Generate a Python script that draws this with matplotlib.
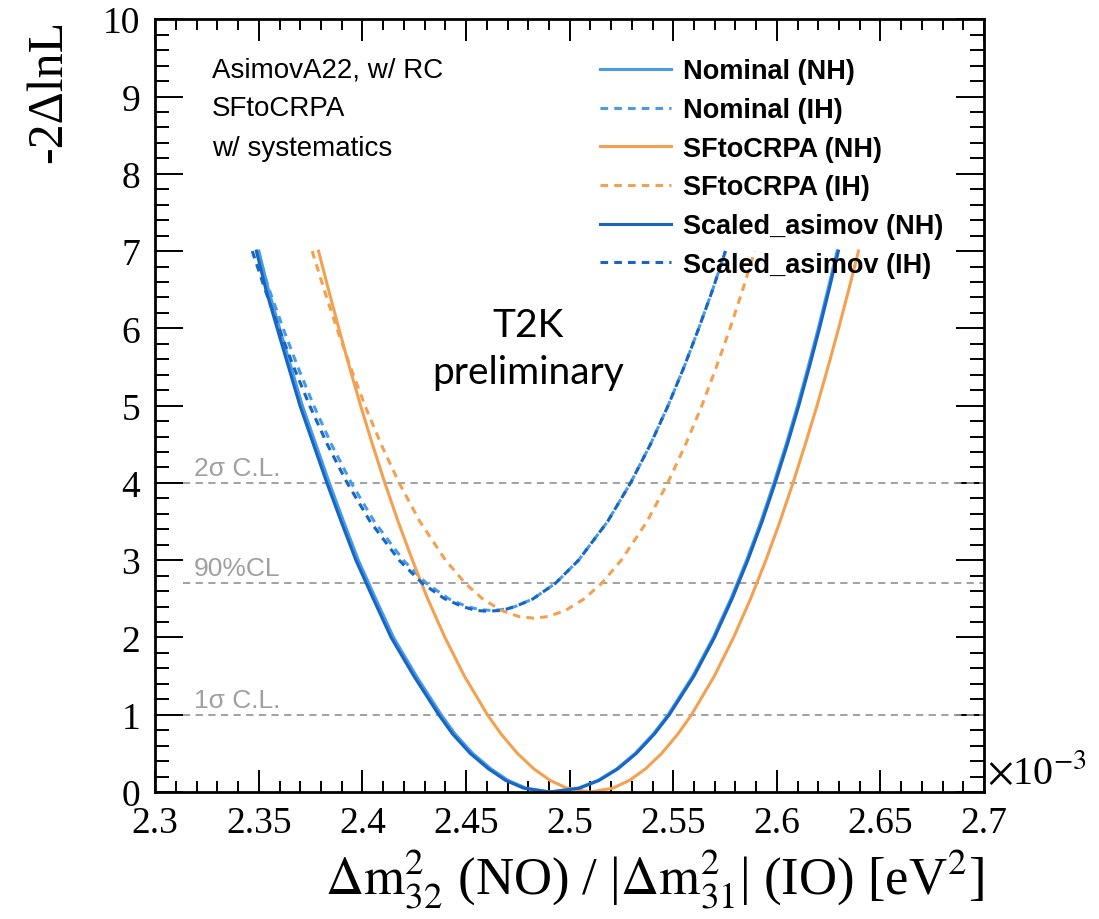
import numpy as np
import matplotlib
matplotlib.use('Agg')
import matplotlib.pyplot as plt
from matplotlib.ticker import MultipleLocator

plt.rcParams['mathtext.fontset'] = 'stix'
plt.rcParams['font.family'] = 'Liberation Serif'

# x in units of 1e-3 eV^2, y = -2 Delta lnL
nh_y = [7.0, 6.5, 6.0, 5.5, 5.0, 4.5, 4.0, 3.5, 3.0, 2.5, 2.0, 1.5, 1.0, 0.75, 0.5, 0.3, 0.15, 0.05, 0.0,
        0.05, 0.15, 0.3, 0.5, 0.75, 1.0, 1.5, 2.0, 2.5, 3.0, 3.5, 4.0, 4.5, 5.0, 5.5, 6.0, 6.5, 7.0]

nom_nh_x = [2.3500, 2.3546, 2.3600, 2.3655, 2.3710, 2.3775, 2.3840, 2.3909, 2.3980, 2.4064, 2.4150,
            2.4260, 2.4380, 2.4447, 2.4532, 2.4620, 2.4703, 2.4790, 2.4910,
            2.5041, 2.5136, 2.5227, 2.5316, 2.5403, 2.5475, 2.5594, 2.5693, 2.5778, 2.5854,
            2.5923, 2.5986, 2.6045, 2.6100, 2.6151, 2.6200, 2.6246, 2.6291]

sca_nh_x = [2.3488, 2.3534, 2.3588, 2.3643, 2.3698, 2.3763, 2.3828, 2.3897, 2.3968, 2.4052, 2.4138,
            2.4248, 2.4368, 2.4435, 2.4520, 2.4608, 2.4691, 2.4778, 2.4900,
            2.5047, 2.5142, 2.5233, 2.5322, 2.5409, 2.5481, 2.5600, 2.5699, 2.5784, 2.5860,
            2.5929, 2.5992, 2.6051, 2.6106, 2.6157, 2.6206, 2.6252, 2.6297]

sf_nh_x = [2.3788, 2.3836, 2.3886, 2.3937, 2.3991, 2.4048, 2.4108, 2.4172, 2.4241, 2.4315, 2.4398,
           2.4492, 2.4603, 2.4669, 2.4748, 2.4827, 2.4906, 2.4987, 2.5098,
           2.5208, 2.5288, 2.5366, 2.5444, 2.5522, 2.5588, 2.5698, 2.5791, 2.5873, 2.5947,
           2.6015, 2.6078, 2.6137, 2.6194, 2.6247, 2.6298, 2.6347, 2.6394]

nom_ih_y = [7.0, 6.5, 6.0, 5.5, 5.0, 4.5, 4.0, 3.5, 3.0, 2.7, 2.5, 2.4, 2.36, 2.35,
            2.36, 2.4, 2.5, 2.7, 3.0, 3.5, 4.0, 4.5, 5.0, 5.5, 6.0, 6.5, 7.0]
nom_ih_x = [2.3488, 2.3550, 2.3617, 2.3688, 2.3765, 2.3850, 2.3946, 2.4057, 2.4197, 2.4309, 2.4417,
            2.4503, 2.4567, 2.4620,
            2.4673, 2.4737, 2.4823, 2.4931, 2.5043, 2.5183, 2.5294, 2.5390, 2.5475, 2.5552,
            2.5623, 2.5690, 2.5752]

sca_ih_y = [7.0, 6.5, 6.0, 5.5, 5.0, 4.5, 4.0, 3.5, 3.0, 2.7, 2.5, 2.4, 2.35, 2.34,
            2.35, 2.4, 2.5, 2.7, 3.0, 3.5, 4.0, 4.5, 5.0, 5.5, 6.0, 6.5, 7.0]
sca_ih_x = [2.3468, 2.3530, 2.3597, 2.3668, 2.3745, 2.3830, 2.3926, 2.4037, 2.4177, 2.4289, 2.4397,
            2.4483, 2.4547, 2.4600,
            2.4673, 2.4737, 2.4823, 2.4931, 2.5043, 2.5183, 2.5294, 2.5390, 2.5475, 2.5552,
            2.5623, 2.5690, 2.5752]

sf_ih_y = [7.0, 6.5, 6.0, 5.5, 5.0, 4.5, 4.0, 3.5, 3.0, 2.7, 2.5, 2.35, 2.27, 2.25,
           2.27, 2.35, 2.5, 2.7, 3.0, 3.5, 4.0, 4.5, 5.0, 5.5, 6.0, 6.5, 7.0]
sf_ih_x = [2.3757, 2.3815, 2.3876, 2.3942, 2.4012, 2.4090, 2.4177, 2.4277, 2.4401, 2.4496, 2.4580,
           2.4670, 2.4756, 2.4825,
           2.4894, 2.4980, 2.5070, 2.5154, 2.5249, 2.5373, 2.5473, 2.5560, 2.5638, 2.5708,
           2.5774, 2.5835, 2.5893]

cl_levels = [1.0, 2.71, 4.0]
cl_names = ['1\u03c3 C.L.', '90%CL', '2\u03c3 C.L.']

light_blue = '#4a9be6'
dark_blue = '#1766c4'
orange = '#f3a150'
dash = (0, (2.5, 2))

fig = plt.figure(figsize=(10.99, 9.2), dpi=100)
ax = fig.add_axes([0.1413, 0.138, 0.7541, 0.840])

for lev, name in zip(cl_levels, cl_names):
    ax.plot([2.3135, 2.7], [lev, lev], color='#9a9a9a', lw=1.3, ls=(0, (4, 3)))
    ax.text(2.3185, lev + 0.04, name, color='#a0a0a0', fontsize=19,
            family='Liberation Sans', ha='left', va='bottom')

ax.plot(nom_nh_x, nh_y, color=light_blue, lw=2.2, label='Nominal (NH)')
ax.plot(nom_ih_x, nom_ih_y, color=light_blue, lw=2.2, ls=dash, label='Nominal (IH)')
ax.plot(sf_nh_x, nh_y, color=orange, lw=2.2, label='SFtoCRPA (NH)')
ax.plot(sf_ih_x, sf_ih_y, color=orange, lw=2.2, ls=dash, label='SFtoCRPA (IH)')
ax.plot(sca_nh_x, nh_y, color=dark_blue, lw=2.2, label='Scaled_asimov (NH)')
ax.plot(sca_ih_x, sca_ih_y, color=dark_blue, lw=2.2, ls=dash, label='Scaled_asimov (IH)')

ax.set_xlim(2.3, 2.7)
ax.set_ylim(0, 10)
ax.xaxis.set_major_locator(MultipleLocator(0.05))
ax.xaxis.set_minor_locator(MultipleLocator(0.01))
ax.yaxis.set_major_locator(MultipleLocator(1))
ax.yaxis.set_minor_locator(MultipleLocator(0.2))
ax.set_xticks([2.3, 2.35, 2.4, 2.45, 2.5, 2.55, 2.6, 2.65, 2.7])
ax.set_xticklabels(['2.3', '2.35', '2.4', '2.45', '2.5', '2.55', '2.6', '2.65', '2.7'])
ax.tick_params(axis='both', which='both', direction='in', top=True, right=True, labelsize=27, width=1.4)
ax.tick_params(axis='x', which='major', length=16, pad=10)
ax.tick_params(axis='x', which='minor', length=8)
ax.tick_params(axis='y', which='major', length=20, pad=11)
ax.tick_params(axis='y', which='minor', length=10)
for sp in ax.spines.values():
    sp.set_linewidth(2)

ax.set_xlabel(r'$\Delta\mathrm{m}^2_{32}$ (NO) / |$\Delta\mathrm{m}^2_{31}$| (IO) [eV$^2$]',
              fontsize=38, loc='right', labelpad=4)
ax.set_ylabel('-2\u0394lnL', fontsize=36, loc='top', labelpad=22)
ax.text(1.003, 0.0, r'$\times$10$^{-3}$', transform=ax.transAxes, fontsize=29,
        ha='left', va='bottom')

ax.text(0.068, 0.935, 'AsimovA22, w/ RC', transform=ax.transAxes, fontsize=20,
        family='Liberation Sans', va='center')
ax.text(0.068, 0.885, 'SFtoCRPA', transform=ax.transAxes, fontsize=20,
        family='Liberation Sans', va='center')
ax.text(0.068, 0.834, 'w/ systematics', transform=ax.transAxes, fontsize=20,
        family='Liberation Sans', va='center')

ax.text(0.45, 0.574, 'T2K\npreliminary', transform=ax.transAxes, fontsize=28,
        family='Lato', ha='center', va='center', linespacing=1.35)

leg = ax.legend(loc='upper left', bbox_to_anchor=(0.524, 0.9635), frameon=False,
                prop={'family': 'Liberation Sans', 'weight': 'bold', 'size': 19.5},
                handlelength=2.6, handletextpad=0.45, labelspacing=0.47, borderaxespad=0)

fig.savefig('out.png', dpi=100)
